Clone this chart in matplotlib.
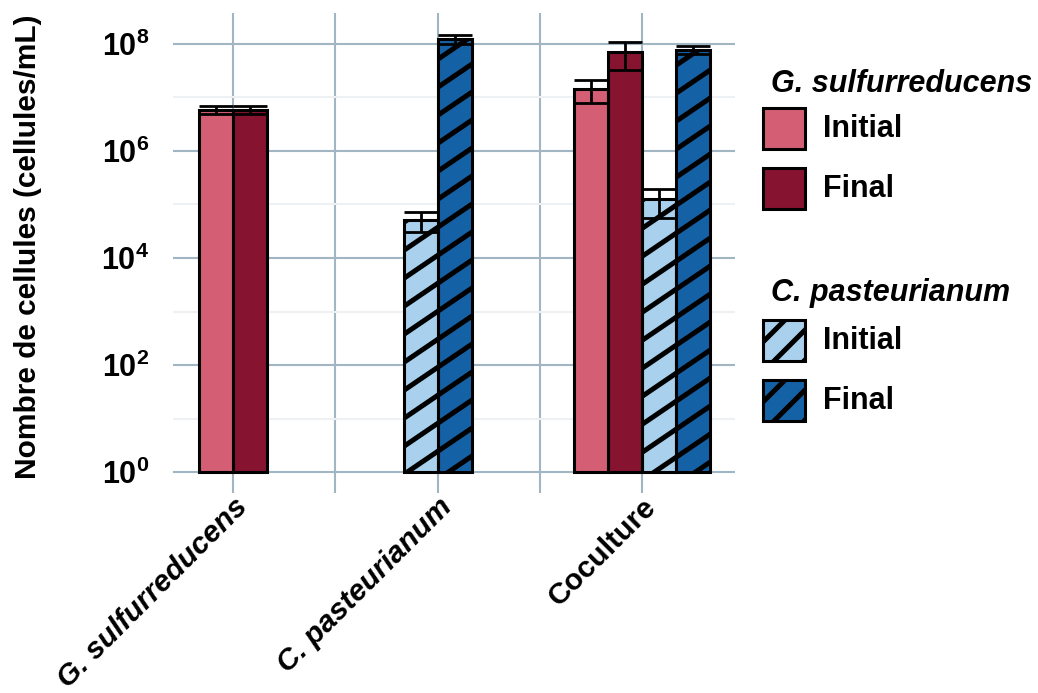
import matplotlib
matplotlib.use("Agg")
import matplotlib.pyplot as plt
import numpy as np
from matplotlib.lines import Line2D
from matplotlib.patches import Rectangle
from matplotlib.ticker import FixedLocator, NullFormatter
from matplotlib.transforms import IdentityTransform

plt.rcParams['font.family'] = ['Liberation Sans', 'DejaVu Sans']
plt.rcParams['font.weight'] = 'bold'
plt.rcParams['mathtext.fontset'] = 'custom'
plt.rcParams['mathtext.rm'] = 'Liberation Sans:bold'
plt.rcParams['mathtext.it'] = 'Liberation Sans:bold:italic'
plt.rcParams['mathtext.bf'] = 'Liberation Sans:bold'

# data (cells/mL), nan = not measured in that culture
groups = ["G. sulfurreducens", "C. pasteurianum", "Coculture"]
gs_initial = [5.9e6, np.nan, 1.45e7]
gs_final = [5.9e6, np.nan, 7.0e7]
cp_initial = [np.nan, 5.1e4, 1.25e5]
cp_final = [np.nan, 1.25e8, 7.8e7]
gs_initial_sd = [1.0e6, np.nan, 6.5e6]
gs_final_sd = [1.0e6, np.nan, 3.7e7]
cp_initial_sd = [np.nan, 2.0e4, 7.0e4]
cp_final_sd = [np.nan, 2.5e7, 1.2e7]
yticks = [1e0, 1e2, 1e4, 1e6, 1e8]
ytick_labels = ['$10^{0}$', '$10^{2}$', '$10^{4}$', '$10^{6}$', '$10^{8}$']

series = [
    ("Initial", gs_initial, gs_initial_sd, '#d45f74', False),
    ("Final", gs_final, gs_final_sd, '#861330', False),
    ("Initial", cp_initial, cp_initial_sd, '#a9d0ec', True),
    ("Final", cp_final, cp_final_sd, '#1561a6', True),
]

W, H = 1038, 693
fig = plt.figure(figsize=(W / 100, H / 100), dpi=100)
ax = fig.add_axes([173 / W, 1 - 493 / H, (735 - 173) / W, (493 - 13) / H])
ax.set_yscale('log')
ax.set_xlim(0.705, 3.455)
ax.set_ylim(10 ** -0.392, 10 ** 8.579)

grid_col = '#a2b5c3'
for s in ax.spines.values():
    s.set_visible(False)

xpos = np.arange(1, len(groups) + 1)
ax.set_xticks(xpos)
ax.set_xticklabels(groups, rotation=45, ha='right', va='top',
                   rotation_mode='anchor', fontsize=21.5)
for lbl, it in zip(ax.get_xticklabels(), [True, True, False]):
    lbl.set_fontstyle('italic' if it else 'normal')
ax.xaxis.set_minor_locator(FixedLocator([1.5, 2.5]))
ax.set_yticks(yticks)
ax.set_yticklabels(ytick_labels, fontsize=22)
ax.yaxis.set_minor_locator(FixedLocator([1e1, 1e3, 1e5, 1e7]))
ax.yaxis.set_minor_formatter(NullFormatter())
ax.tick_params(which='both', length=0)
ax.tick_params(axis='x', pad=0)
ax.tick_params(axis='y', pad=17)
ax.grid(which='major', color=grid_col, lw=1.5)
ax.grid(which='minor', axis='x', color=grid_col, lw=1.5)
ax.grid(which='minor', axis='y', color='#eef1f3', lw=1.5)
ax.set_axisbelow(True)

fig.text(28 / W, 1 - 247 / H, 'Nombre de cellules (cellules/mL)', rotation=90,
         ha='center', va='center', fontsize=21.5, fontweight='bold')

# bars: dodge the series present in each group
w = 0.1667
hatched = []
for gi in range(len(groups)):
    present = [s for s in series if not np.isnan(s[1][gi])]
    n = len(present)
    for k, (name, vals, sds, col, hatch) in enumerate(present):
        x = xpos[gi] + (k - (n - 1) / 2) * w
        v = vals[gi]
        fill = ax.bar(x, v - 1, bottom=1, width=w, color=col, edgecolor='none',
                      zorder=2)[0]
        ax.bar(x, v - 1, bottom=1, width=w, color='none', edgecolor='black',
               lw=2.2, zorder=4)
        ax.errorbar(x, v, yerr=sds[gi], fmt='none', ecolor='black',
                    elinewidth=2.0, capsize=12.2, capthick=2.0, zorder=5)
        if hatch:
            hatched.append(fill)

# legend (manual, two blocks)
legend_blocks = [
    ("G. sulfurreducens", 84, [(series[0], 108), (series[1], 168)]),
    ("C. pasteurianum", 293, [(series[2], 320), (series[3], 380)]),
]
leg_patches = []
for title, ty, entries in legend_blocks:
    fig.text(771 / W, 1 - ty / H, title, fontsize=22, fontweight='bold',
             fontstyle='italic', ha='left', va='center')
    for (name, _, _, col, hatch), py in entries:
        r = Rectangle((763 / W, 1 - (py + 41) / H), 42 / W, 41 / H,
                      transform=fig.transFigure, facecolor=col,
                      edgecolor='none', zorder=1)
        fig.add_artist(r)
        fig.add_artist(Rectangle((763 / W, 1 - (py + 41) / H), 42 / W, 41 / H,
                                 transform=fig.transFigure, facecolor='none',
                                 edgecolor='black', lw=2.2, zorder=4))
        fig.text(823 / W, 1 - (py + 21) / H, name, fontsize=22,
                 fontweight='bold', ha='left', va='center')
        if hatch:
            leg_patches.append(r)

fig.canvas.draw()
renderer = fig.canvas.get_renderer()


def stripes(patch, slope, step, parent, offset=0.0):
    bb = patch.get_window_extent(renderer)
    x0, x1, y0, y1 = bb.x0 - 5, bb.x1 + 5, bb.y0, bb.y1
    cmin = y0 - slope * x1
    cmax = y1 - slope * x0
    cs = np.arange(np.floor(cmin / step) * step + offset, cmax + step, step)
    for c in cs:
        ln = Line2D([x0, x1], [slope * x0 + c, slope * x1 + c],
                    transform=IdentityTransform(), color='black', lw=3.6,
                    solid_capstyle='butt', zorder=3)
        if parent is ax:
            ax.add_line(ln)
        else:
            fig.add_artist(ln)
        ln.set_clip_on(True)
        ln.set_clip_path(None)
        ln.set_clip_box(bb)


for p in hatched:
    stripes(p, 0.68, 28, ax)
for p in leg_patches:
    stripes(p, 1.0, 30, fig, offset=8)

fig.savefig('out.png', dpi=100)
